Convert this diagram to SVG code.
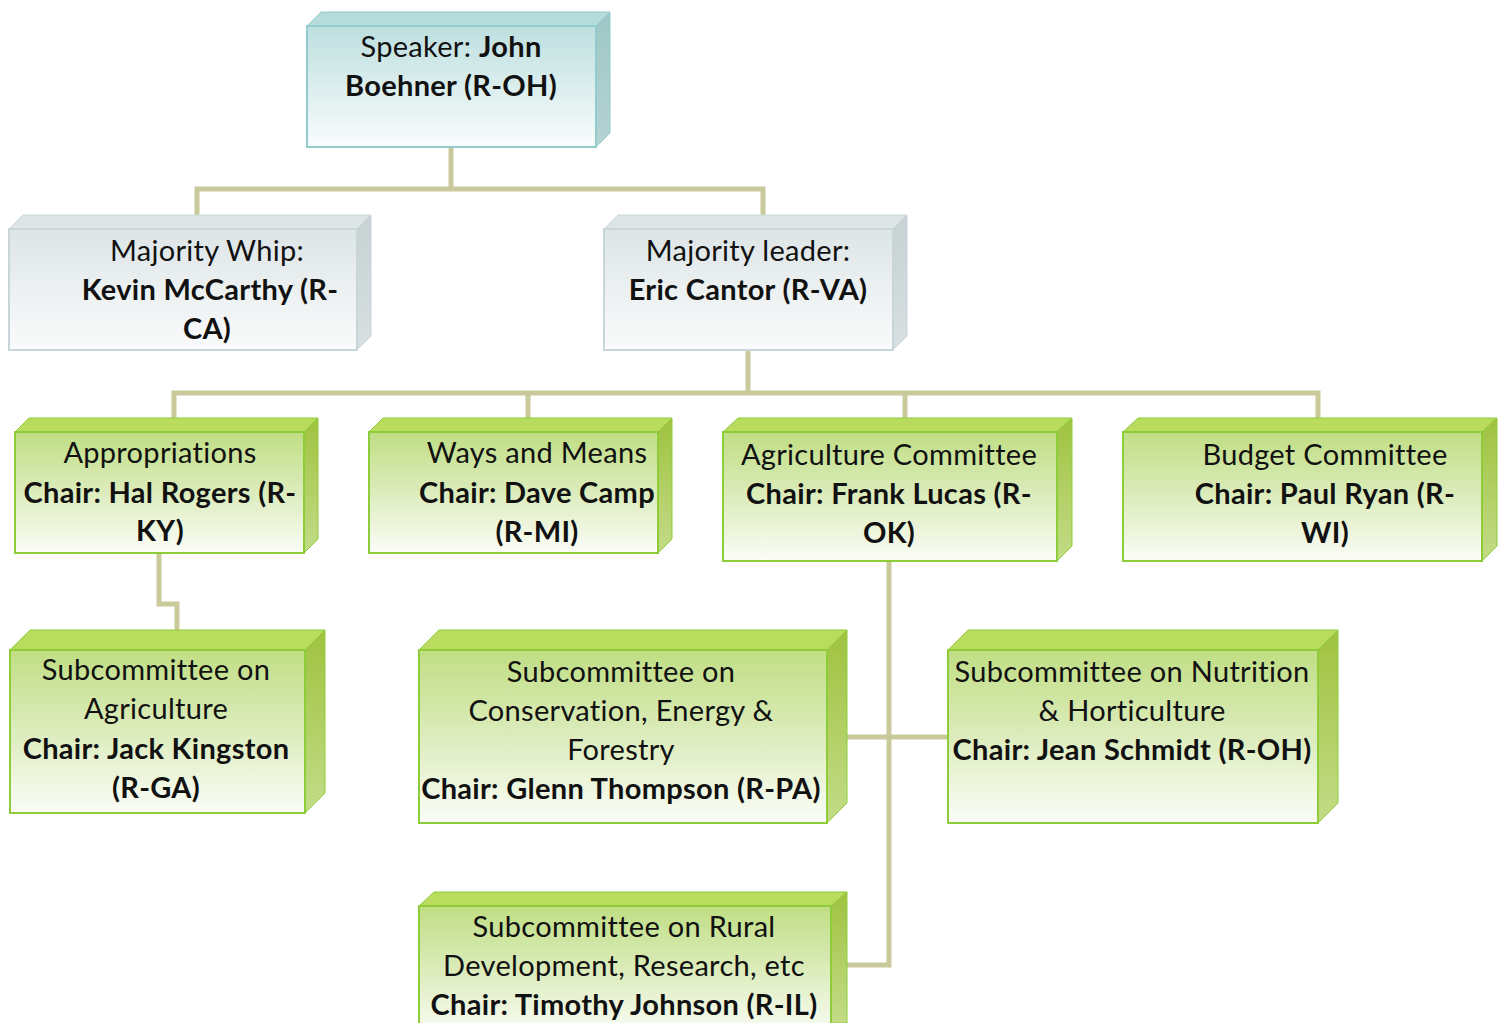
<svg xmlns="http://www.w3.org/2000/svg" width="1504" height="1023" viewBox="0 0 1504 1023">
<defs>
<linearGradient id="gTeal" x1="0" y1="0" x2="0" y2="1"><stop offset="0" stop-color="#bddfdf"/><stop offset="1" stop-color="#f9fcfc"/></linearGradient>
<linearGradient id="gGray" x1="0" y1="0" x2="0" y2="1"><stop offset="0" stop-color="#dde5e7"/><stop offset="1" stop-color="#fafbfb"/></linearGradient>
<linearGradient id="gGreen" x1="0" y1="0" x2="0" y2="1"><stop offset="0" stop-color="#c0de84"/><stop offset="0.5" stop-color="#dcecbc"/><stop offset="1" stop-color="#fbfdf7"/></linearGradient>
<linearGradient id="gGreenSide" x1="0" y1="0" x2="0" y2="1"><stop offset="0" stop-color="#9fc23f"/><stop offset="1" stop-color="#c3dc88"/></linearGradient>
<linearGradient id="gTealSide" x1="0" y1="0" x2="0" y2="1"><stop offset="0" stop-color="#9ec6c6"/><stop offset="1" stop-color="#b5d3d3"/></linearGradient>
<linearGradient id="gGraySide" x1="0" y1="0" x2="0" y2="1"><stop offset="0" stop-color="#c6d1d3"/><stop offset="1" stop-color="#d8e0e1"/></linearGradient>
</defs>
<style>
.conn{fill:none;stroke:#cac99c;stroke-width:5}
.tealF{fill:url(#gTeal);stroke:#93cccc;stroke-width:2}
.tealT{fill:#b5dbdb;stroke:#93cccc;stroke-width:1}
.tealR{fill:url(#gTealSide);stroke:#93cccc;stroke-width:1}
.grayF{fill:url(#gGray);stroke:#c8d6d9;stroke-width:2}
.grayT{fill:#dee5e7;stroke:#c8d6d9;stroke-width:1}
.grayR{fill:url(#gGraySide);stroke:#c8d6d9;stroke-width:1}
.grnF{fill:url(#gGreen);stroke:#8fcc3a;stroke-width:2}
.grnT{fill:#b9dc5e;stroke:#8fcc3a;stroke-width:1}
.grnR{fill:url(#gGreenSide);stroke:#8fcc3a;stroke-width:1}
text{font-family:Lato,"Liberation Sans",sans-serif;font-size:29px;letter-spacing:0.3px;fill:#111;text-anchor:middle}
.b{font-weight:bold}
</style>

<g id="connectors">
<polyline class="conn" points="451,147 451,189"/>
<polyline class="conn" points="197,215 197,189 763,189 763,215"/>
<polyline class="conn" points="748,350 748,393"/>
<polyline class="conn" points="174,418 174,393 1318,393 1318,418"/>
<polyline class="conn" points="528,393 528,418"/>
<polyline class="conn" points="905,393 905,418"/>
<polyline class="conn" points="159,553 159,604 177,604 177,630"/>
<polyline class="conn" points="889,561 889,965 847,965"/>
<polyline class="conn" points="847,737 948,737"/>
</g>

<g id="speaker">
<polygon class="tealT" points="307,26 321,12 610,12 596,26"/>
<polygon class="tealR" points="596,26 610,12 610,133 596,147"/>
<rect class="tealF" x="307" y="26" width="289" height="121"/>
<text x="451" y="57">Speaker: <tspan class="b">John</tspan></text>
<text x="451" y="96" class="b">Boehner (R-OH)</text>
</g>

<g id="whip">
<polygon class="grayT" points="9,229 23,215 371,215 357,229"/>
<polygon class="grayR" points="357,229 371,215 371,336 357,350"/>
<rect class="grayF" x="9" y="229" width="348" height="121"/>
<text x="207" y="261">Majority Whip:</text>
<text x="210" y="300" class="b">Kevin McCarthy (R-</text>
<text x="207" y="339" class="b">CA)</text>
</g>

<g id="leader">
<polygon class="grayT" points="604,229 618,215 907,215 893,229"/>
<polygon class="grayR" points="893,229 907,215 907,336 893,350"/>
<rect class="grayF" x="604" y="229" width="289" height="121"/>
<text x="748" y="261">Majority leader:</text>
<text x="748" y="300" class="b">Eric Cantor (R-VA)</text>
</g>

<g id="appropriations">
<polygon class="grnT" points="15,432 29,418 318,418 304,432"/>
<polygon class="grnR" points="304,432 318,418 318,539 304,553"/>
<rect class="grnF" x="15" y="432" width="289" height="121"/>
<text x="160" y="463">Appropriations</text>
<text x="160" y="503" class="b">Chair: Hal Rogers (R-</text>
<text x="160" y="541" class="b">KY)</text>
</g>

<g id="waysmeans">
<polygon class="grnT" points="369,432 383,418 672,418 658,432"/>
<polygon class="grnR" points="658,432 672,418 672,539 658,553"/>
<rect class="grnF" x="369" y="432" width="289" height="121"/>
<text x="537" y="463">Ways and Means</text>
<text x="537" y="503" class="b">Chair: Dave Camp</text>
<text x="537" y="542" class="b">(R-MI)</text>
</g>

<g id="agriculture">
<polygon class="grnT" points="723,432 738,418 1072,418 1057,432"/>
<polygon class="grnR" points="1057,432 1072,418 1072,546 1057,561"/>
<rect class="grnF" x="723" y="432" width="334" height="129"/>
<text x="889" y="465">Agriculture Committee</text>
<text x="889" y="504" class="b">Chair: Frank Lucas (R-</text>
<text x="889" y="543" class="b">OK)</text>
</g>

<g id="budget">
<polygon class="grnT" points="1123,432 1138,418 1497,418 1482,432"/>
<polygon class="grnR" points="1482,432 1497,418 1497,546 1482,561"/>
<rect class="grnF" x="1123" y="432" width="359" height="129"/>
<text x="1325" y="465">Budget Committee</text>
<text x="1325" y="504" class="b">Chair: Paul Ryan (R-</text>
<text x="1325" y="543" class="b">WI)</text>
</g>

<g id="sub-agriculture">
<polygon class="grnT" points="10,650 30,630 325,630 305,650"/>
<polygon class="grnR" points="305,650 325,630 325,793 305,813"/>
<rect class="grnF" x="10" y="650" width="295" height="163"/>
<text x="156" y="680">Subcommittee on</text>
<text x="156" y="719">Agriculture</text>
<text x="156" y="759" class="b">Chair: Jack Kingston</text>
<text x="156" y="798" class="b">(R-GA)</text>
</g>

<g id="sub-conservation">
<polygon class="grnT" points="419,650 439,630 847,630 827,650"/>
<polygon class="grnR" points="827,650 847,630 847,803 827,823"/>
<rect class="grnF" x="419" y="650" width="408" height="173"/>
<text x="621" y="682">Subcommittee on</text>
<text x="621" y="721">Conservation, Energy &amp;</text>
<text x="621" y="760">Forestry</text>
<text x="621" y="799" class="b">Chair: Glenn Thompson (R-PA)</text>
</g>

<g id="sub-nutrition">
<polygon class="grnT" points="948,650 968,630 1338,630 1318,650"/>
<polygon class="grnR" points="1318,650 1338,630 1338,803 1318,823"/>
<rect class="grnF" x="948" y="650" width="370" height="173"/>
<text x="1132" y="682">Subcommittee on Nutrition</text>
<text x="1132" y="721">&amp; Horticulture</text>
<text x="1132" y="760" class="b">Chair: Jean Schmidt (R-OH)</text>
</g>

<g id="sub-rural">
<polygon class="grnT" points="419,906 434,892 847,892 831,906"/>
<polygon class="grnR" points="831,906 847,892 847,1023 831,1023"/>
<rect class="grnF" x="419" y="906" width="412" height="130"/>
<text x="624" y="937">Subcommittee on Rural</text>
<text x="624" y="976">Development, Research, etc</text>
<text x="624" y="1015" class="b">Chair: Timothy Johnson (R-IL)</text>
</g>
</svg>
